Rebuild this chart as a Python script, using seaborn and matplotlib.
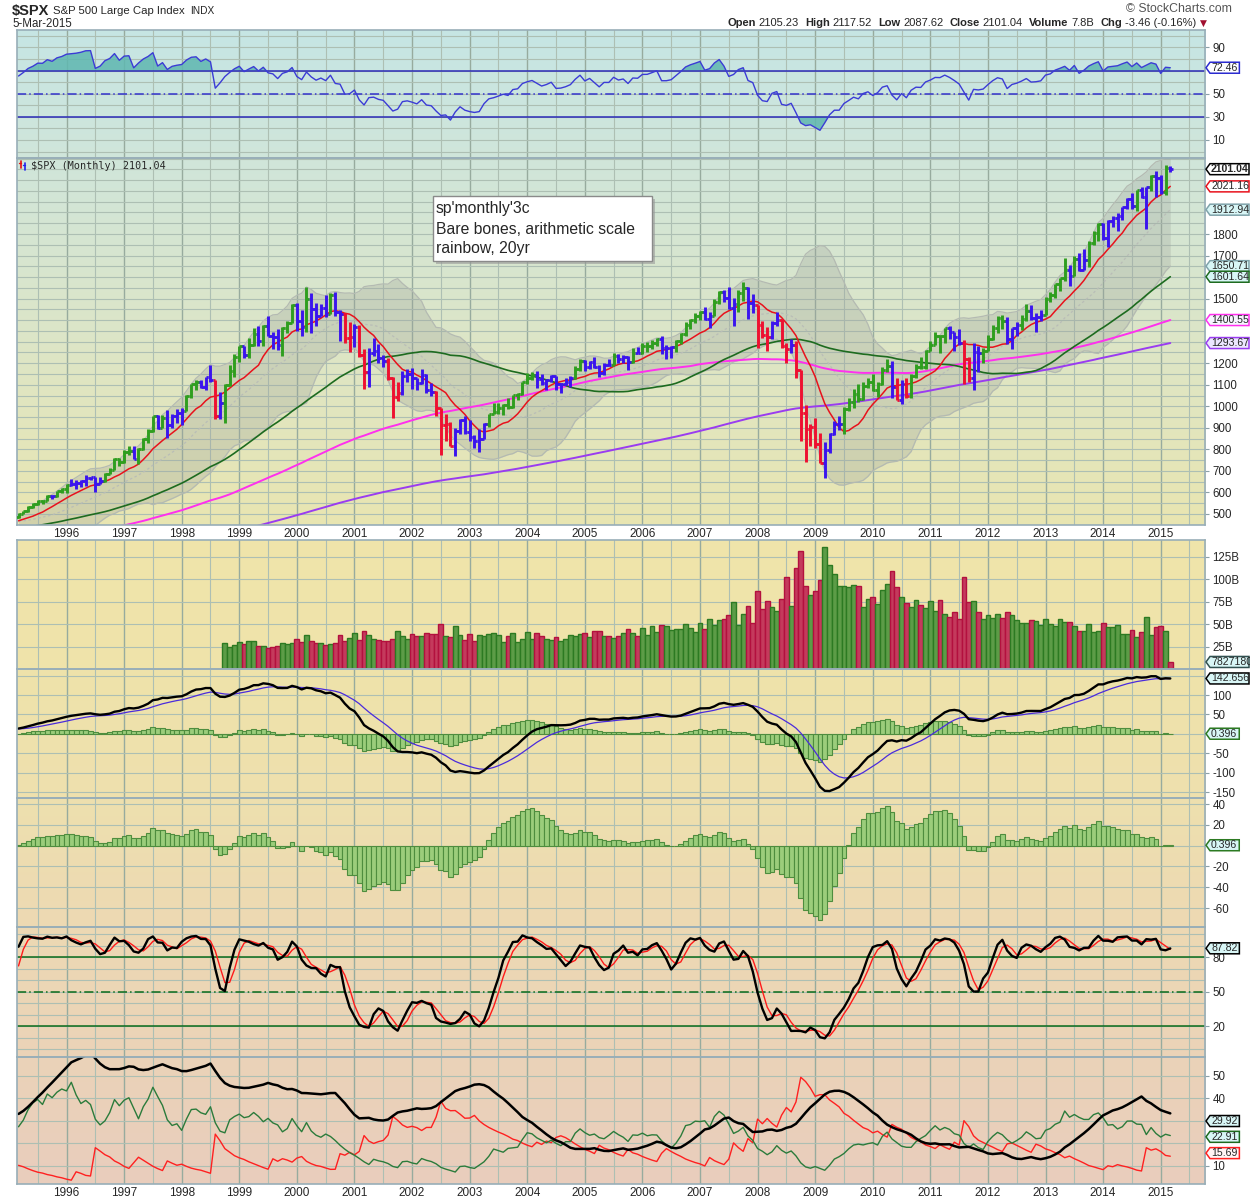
import numpy as np
import pandas as pd
import seaborn as sns
import matplotlib.pyplot as plt
import matplotlib.colors as mcolors
from matplotlib.patches import Rectangle, Polygon
from matplotlib.lines import Line2D

# ---------------- data (monthly S&P 500) ----------------
# closes before the visible window, they only feed the long averages, RSI and MACD
close_1982_1992 = [
    120.40, 113.11, 111.96, 116.44, 111.88, 109.61, 107.09, 119.51, 120.42, 133.71, 138.54, 140.64,
    145.30, 148.06, 152.96, 164.42, 162.39, 168.11, 162.56, 164.40, 166.07, 163.55, 166.40, 164.93,
    163.41, 157.06, 159.18, 160.05, 150.55, 153.18, 150.66, 166.68, 166.10, 166.09, 163.58, 167.24,
    179.63, 181.18, 180.66, 179.83, 189.55, 191.85, 190.92, 188.63, 182.08, 189.82, 202.17, 211.28,
    211.78, 226.92, 238.90, 235.52, 247.35, 250.84, 236.12, 252.93, 231.32, 243.98, 249.22, 242.17,
    274.08, 284.20, 291.70, 288.36, 290.10, 304.00, 318.66, 329.80, 321.83, 251.79, 230.30, 247.08,
    257.07, 267.82, 258.89, 261.33, 262.16, 273.50, 272.02, 261.52, 271.91, 278.97, 273.70, 277.72,
    297.47, 288.86, 294.87, 309.64, 320.52, 317.98, 346.08, 351.45, 349.15, 340.36, 345.99, 353.40,
    329.08, 331.89, 339.94, 330.80, 361.23, 358.02, 356.15, 322.56, 306.05, 304.00, 322.22, 330.22,
    343.93, 367.07, 375.22, 375.35, 389.83, 371.16, 387.81, 395.43, 387.86, 392.45, 375.22, 417.09,
    408.79, 412.70, 403.69, 414.95, 415.35, 408.14, 424.21, 414.03, 417.80, 418.68, 431.35, 435.71,
]

# Jan 1993 .. Mar 2015
close_1993_2015 = [
    438.78, 443.38, 451.67, 440.19, 450.19, 450.53, 448.13, 463.56, 458.93, 467.83, 461.79, 466.45,
    481.61, 467.14, 445.77, 450.91, 456.50, 444.27, 458.26, 475.49, 462.69, 472.35, 453.69, 459.27,
    470.42, 487.39, 500.71, 514.71, 533.40, 544.75, 562.06, 561.88, 584.41, 581.50, 605.37, 615.93,
    636.02, 640.43, 645.50, 654.17, 669.12, 670.63, 639.95, 651.99, 687.33, 705.27, 757.02, 740.74,
    786.16, 790.82, 757.12, 801.34, 848.28, 885.14, 954.29, 899.47, 947.28, 914.62, 955.40, 970.43,
    980.28, 1049.34, 1101.75, 1111.75, 1090.82, 1133.84, 1120.67, 957.28, 1017.01, 1098.67, 1163.63, 1229.23,
    1279.64, 1238.33, 1286.37, 1335.18, 1301.84, 1372.71, 1328.72, 1320.41, 1282.71, 1362.93, 1388.91, 1469.25,
    1394.46, 1366.42, 1498.58, 1452.43, 1420.60, 1454.60, 1430.83, 1517.68, 1436.51, 1429.40, 1315.23, 1320.28,
    1366.01, 1239.94, 1160.33, 1249.46, 1255.82, 1224.42, 1211.23, 1133.58, 1040.94, 1059.78, 1139.45, 1148.08,
    1130.20, 1106.73, 1147.39, 1076.92, 1067.14, 989.82, 911.62, 916.07, 815.28, 885.76, 936.31, 879.82,
    855.70, 841.15, 848.18, 916.92, 963.59, 974.50, 990.31, 1008.01, 995.97, 1050.71, 1058.20, 1111.92,
    1131.13, 1144.94, 1126.21, 1107.30, 1120.68, 1140.84, 1101.72, 1104.24, 1114.58, 1130.20, 1173.82, 1211.92,
    1181.27, 1203.60, 1180.59, 1156.85, 1191.50, 1191.33, 1234.18, 1220.33, 1228.81, 1207.01, 1249.48, 1248.29,
    1280.08, 1280.66, 1294.87, 1310.61, 1270.09, 1270.20, 1276.66, 1303.82, 1335.85, 1377.94, 1400.63, 1418.30,
    1438.24, 1406.82, 1420.86, 1482.37, 1530.62, 1503.35, 1455.27, 1473.99, 1526.75, 1549.38, 1481.14, 1468.36,
    1378.55, 1330.63, 1322.70, 1385.59, 1400.38, 1280.00, 1267.38, 1282.83, 1166.36, 968.75, 896.24, 903.25,
    825.88, 735.09, 797.87, 872.81, 919.14, 919.32, 987.48, 1020.62, 1057.08, 1036.19, 1095.63, 1115.10,
    1073.87, 1104.49, 1169.43, 1186.69, 1089.41, 1030.71, 1101.60, 1049.33, 1141.20, 1183.26, 1180.55, 1257.64,
    1286.12, 1327.22, 1325.83, 1363.61, 1345.20, 1320.64, 1292.28, 1218.89, 1131.42, 1253.30, 1246.96, 1257.60,
    1312.41, 1365.68, 1408.47, 1397.91, 1310.33, 1362.16, 1379.32, 1406.58, 1440.67, 1412.16, 1416.18, 1426.19,
    1498.11, 1514.68, 1569.19, 1597.57, 1630.74, 1606.28, 1685.73, 1632.97, 1681.55, 1756.54, 1805.81, 1848.36,
    1782.59, 1859.45, 1872.34, 1883.95, 1923.57, 1960.23, 1930.67, 2003.37, 1972.29, 2018.05, 2067.56, 2058.90,
    1994.99, 2104.50, 2101.04,
]

# monthly highs / lows, Jan 1991 .. Mar 2015
high_1991_2015 = [
    344, 370, 382, 391, 391, 391, 391, 397, 396, 393, 398, 418,
    421, 414, 413, 417, 420, 417, 425, 425, 422, 419, 432, 441,
    442, 450, 456, 452, 455, 453, 452, 464, 464, 470, 468, 471,
    483, 483, 470, 453, 458, 462, 459, 477, 476, 474, 474, 466,
    472, 489, 503, 515, 535, 552, 565, 563, 586, 589, 608, 622,
    637, 664, 656, 656, 680, 673, 672, 671, 690, 714, 759, 762,
    795, 818, 815, 805, 852, 895, 957, 961, 961, 984, 963, 986,
    992, 1051, 1105, 1123, 1122, 1138, 1190, 1122, 1066, 1104, 1193, 1244,
    1280, 1282, 1316, 1362, 1373, 1376, 1421, 1343, 1361, 1366, 1397, 1473,
    1478, 1445, 1553, 1527, 1481, 1474, 1517, 1525, 1530, 1449, 1432, 1390,
    1383, 1376, 1268, 1269, 1316, 1287, 1239, 1226, 1135, 1111, 1163, 1173,
    1176, 1131, 1173, 1148, 1107, 1070, 994, 965, 925, 901, 943, 954,
    936, 865, 895, 924, 965, 1015, 1015, 1011, 1040, 1054, 1063, 1112,
    1155, 1159, 1163, 1150, 1128, 1146, 1141, 1109, 1131, 1142, 1188, 1218,
    1217, 1212, 1229, 1192, 1200, 1219, 1246, 1245, 1237, 1233, 1270, 1276,
    1295, 1297, 1310, 1318, 1326, 1284, 1280, 1306, 1340, 1390, 1407, 1431,
    1441, 1462, 1438, 1498, 1535, 1541, 1556, 1504, 1538, 1576, 1555, 1523,
    1471, 1396, 1369, 1397, 1440, 1405, 1292, 1314, 1303, 1167, 1007, 919,
    944, 876, 832, 878, 930, 956, 997, 1039, 1080, 1102, 1113, 1130,
    1151, 1113, 1181, 1220, 1209, 1132, 1120, 1130, 1150, 1196, 1227, 1263,
    1303, 1344, 1333, 1365, 1371, 1346, 1357, 1308, 1230, 1292, 1278, 1269,
    1333, 1378, 1420, 1422, 1415, 1363, 1392, 1426, 1475, 1470, 1434, 1448,
    1509, 1530, 1570, 1598, 1687, 1654, 1698, 1710, 1730, 1767, 1813, 1849,
    1850, 1867, 1884, 1897, 1925, 1968, 1991, 2005, 2019, 2019, 2075, 2094,
    2072, 2120, 2117.52,
]

low_1991_2015 = [
    312, 341, 363, 370, 371, 368, 370, 378, 383, 380, 373, 371,
    404, 405, 401, 394, 410, 401, 404, 410, 411, 402, 417, 425,
    426, 421, 441, 433, 430, 441, 441, 446, 455, 458, 454, 460,
    464, 464, 437, 435, 442, 441, 443, 456, 460, 455, 448, 448,
    457, 469, 481, 499, 510, 527, 541, 548, 559, 571, 578, 599,
    597, 630, 616, 624, 630, 656, 601, 637, 649, 686, 702, 723,
    737, 773, 755, 733, 798, 831, 883, 893, 897, 855, 901, 924,
    912, 979, 1040, 1076, 1086, 1074, 1114, 940, 939, 923, 1093, 1134,
    1205, 1222, 1225, 1282, 1282, 1281, 1328, 1268, 1263, 1233, 1342, 1387,
    1350, 1325, 1346, 1339, 1373, 1420, 1416, 1429, 1419, 1305, 1294, 1254,
    1274, 1228, 1082, 1091, 1233, 1203, 1183, 1124, 944, 1026, 1054, 1114,
    1081, 1074, 1105, 1064, 1048, 953, 776, 838, 815, 768, 873, 872,
    841, 806, 789, 847, 902, 963, 962, 960, 988, 991, 1031, 1053,
    1105, 1122, 1087, 1101, 1076, 1113, 1078, 1060, 1099, 1090, 1127, 1163,
    1163, 1172, 1176, 1137, 1146, 1188, 1190, 1201, 1201, 1169, 1201, 1246,
    1245, 1253, 1268, 1282, 1245, 1219, 1224, 1253, 1290, 1327, 1360, 1385,
    1403, 1400, 1364, 1417, 1476, 1485, 1454, 1371, 1439, 1490, 1407, 1435,
    1270, 1317, 1257, 1314, 1373, 1272, 1200, 1248, 1133, 840, 741, 818,
    805, 735, 667, 783, 866, 888, 870, 979, 992, 1020, 1029, 1086,
    1072, 1045, 1101, 1157, 1040, 1028, 1011, 1040, 1039, 1131, 1173, 1174,
    1257, 1285, 1249, 1295, 1311, 1258, 1283, 1102, 1114, 1075, 1158, 1202,
    1256, 1310, 1340, 1357, 1291, 1267, 1325, 1354, 1396, 1403, 1343, 1398,
    1426, 1485, 1501, 1536, 1581, 1560, 1604, 1627, 1632, 1646, 1747, 1767,
    1770, 1738, 1834, 1815, 1863, 1915, 1916, 1905, 1965, 1821, 2001, 1973,
    1988, 1981, 2087.62,
]
last_open = 2105.23

# monthly volume in billions, Oct 1998 .. Mar 2015
volume_b = [
    28.7, 24.3, 26.5,
    29.8, 27.6, 30.9, 30.9, 25.4, 25.4, 23.1, 24.3, 25.4, 28.7, 28.0, 28.7,
    33.1, 29.8, 37.6, 30.9, 28.7, 28.7, 26.5, 27.6, 28.7, 37.6, 30.9, 34.3,
    39.8, 32.0, 42.0, 37.6, 33.1, 32.0, 30.9, 30.9, 33.1, 41.8, 36.9, 33.6,
    39.2, 36.9, 36.9, 40.3, 39.2, 39.2, 50.4, 36.9, 35.8, 48.1, 38.1, 32.5,
    39.2, 31.3, 38.1, 36.9, 39.2, 40.3, 38.1, 30.2, 36.9, 40.3, 30.2, 33.6,
    41.4, 33.6, 40.3, 36.9, 33.6, 32.5, 35.8, 31.3, 33.6, 38.1, 36.9, 39.2,
    40.3, 35.8, 42.5, 42.5, 36.9, 36.9, 34.7, 36.9, 40.3, 44.8, 40.3, 36.9,
    45.9, 38.1, 48.1, 41.4, 49.3, 48.1, 43.7, 44.8, 44.8, 50.4, 45.9, 41.4,
    51.5, 44.8, 56.0, 49.3, 54.9, 56.0, 60.4, 75.0, 48.5, 61.6, 70.5, 51.5,
    87.3, 67.2, 76.1, 69.4, 64.9, 78.4, 101.9, 70.5, 111.9, 131.0, 92.9, 82.8,
    87.3, 99.6, 135.4, 115.3, 105.2, 92.9, 92.9, 91.8, 94.0, 92.9, 69.4, 78.4,
    80.6, 72.8, 88.4, 95.1, 108.6, 91.8, 80.6, 73.9, 69.4, 77.2, 71.6, 68.3,
    76.1, 64.9, 77.2, 61.6, 58.2, 63.8, 56.0, 101.9, 75.0, 76.1, 63.8, 56.0,
    60.4, 57.1, 61.6, 56.3, 62.9, 59.6, 54.0, 50.7, 50.7, 54.0, 53.0, 48.5,
    55.2, 49.6, 47.4, 55.2, 51.9, 51.9, 47.4, 41.9, 41.9, 49.6, 40.7, 41.9,
    50.7, 46.3, 46.3, 48.5, 38.5, 38.5, 43.0, 35.2, 40.7, 57.4, 37.4, 46.3,
    47.4, 41.9, 7.83,
]

years = list(range(1996, 2016))
note_lines = ["sp'monthly'3c", "Bare bones, arithmetic scale", "rainbow, 20yr"]
header_items = [("Open", "2105.23"), ("High", "2117.52"), ("Low", "2087.62"),
                ("Close", "2101.04"), ("Volume", "7.8B"), ("Chg", "-3.46 (-0.16%)")]

# ---------------- indicators ----------------
closes = close_1982_1992 + close_1993_2015
T0_HL = 9 * 12                           # Jan 1991
T_FIRST = 13 * 12 + 2                    # Mar 1995, first bar shown
T_VOL = 16 * 12 + 9                      # Oct 1998, first volume bar

c = pd.Series(closes, index=np.arange(len(closes)), dtype=float)
h = pd.Series(high_1991_2015, index=np.arange(T0_HL, len(closes)), dtype=float)
l = pd.Series(low_1991_2015, index=np.arange(T0_HL, len(closes)), dtype=float)
o = c.shift(1)
o.iloc[-1] = last_open


def wilder(x, n=14):
    v = x.values.astype(float)
    out = np.full(len(v), np.nan)
    s = np.where(~np.isnan(v))[0][0]
    out[s + n - 1] = np.nanmean(v[s:s + n])
    for i in range(s + n, len(v)):
        out[i] = out[i - 1] + (v[i] - out[i - 1]) / n
    return pd.Series(out, index=x.index)


sma = {n: c.rolling(n).mean() for n in (10, 20, 50, 100, 200)}
bb_sd = c.rolling(20).std(ddof=0)
bb_up, bb_lo = sma[20] + 2 * bb_sd, sma[20] - 2 * bb_sd

macd = c.ewm(span=12, adjust=False).mean() - c.ewm(span=26, adjust=False).mean()
signal = macd.ewm(span=9, adjust=False).mean()
hist = macd - signal

delta = c.diff()
rsi = 100 - 100 / (1 + wilder(delta.clip(lower=0)) / wilder(-delta.clip(upper=0)))

cc = c.loc[T0_HL:]
lo14, hi14 = l.rolling(14).min(), h.rolling(14).max()
slow_k = (100 * (cc - lo14) / (hi14 - lo14)).rolling(3).mean()
slow_d = slow_k.rolling(3).mean()

prev_c = c.shift(1).loc[T0_HL:]
tr = pd.concat([h - l, (h - prev_c).abs(), (l - prev_c).abs()], axis=1).max(axis=1)
up_move, dn_move = h.diff(), -l.diff()
pdm = up_move.where((up_move > dn_move) & (up_move > 0), 0.0)
mdm = dn_move.where((dn_move > up_move) & (dn_move > 0), 0.0)
tr.iloc[0] = pdm.iloc[0] = mdm.iloc[0] = np.nan
atr = wilder(tr)
pdi = 100 * wilder(pdm) / atr
mdi = 100 * wilder(mdm) / atr
adx = wilder(100 * (pdi - mdi).abs() / (pdi + mdi))

# elder impulse bar colours
ema13 = c.ewm(span=13, adjust=False).mean()
imp_up = (ema13.diff() > 0) & (hist.diff() > 0)
imp_dn = (ema13.diff() < 0) & (hist.diff() < 0)

vis = np.arange(T_FIRST, len(closes))
bar_cols = ['#2f9e1f' if imp_up[t] else ('#ee1030' if imp_dn[t] else '#3a14ee') for t in vis]

# ---------------- figure ----------------
sns.set_style('white')
plt.rcParams['font.family'] = ['Liberation Sans', 'DejaVu Sans']

W, H = 1250, 1200
fig = plt.figure(figsize=(W / 100, H / 100), dpi=100)
fig.patch.set_facecolor('white')
renderer = fig.canvas.get_renderer()
X0, X1 = 16.5, 1205
XL = (157.58, 405.23)


def px_rect(top, bottom):
    return [X0 / W, 1 - bottom / H, (X1 - X0) / W, (bottom - top) / H]


bg_anchors = [(30, '#c6e5e4'), (160, '#d0e5da'), (330, '#dce5c8'), (525, '#e9e5b1'),
              (540, '#efe5aa'), (669, '#efe3aa'), (798, '#eee0ae'), (927, '#edd9b3'),
              (1057, '#ebd3b8'), (1184, '#e9cdbd')]
anc_y = np.array([a[0] for a in bg_anchors], dtype=float)
anc_c = np.array([mcolors.to_rgb(a[1]) for a in bg_anchors])


def add_bg(top, bottom):
    ys = np.arange(top, bottom) + 0.5
    cols = np.stack([np.interp(ys, anc_y, anc_c[:, k]) for k in range(3)], axis=1)
    bg = fig.add_axes(px_rect(top, bottom), zorder=0)
    bg.imshow(cols[:, None, :], aspect='auto', extent=[0, 1, 0, 1], origin='upper')
    bg.axis('off')


add_bg(30, 525)
add_bg(540, 1184)

grid_col, year_col = '#adbfb3', '#97ab9e'


def add_panel(top, bottom, ylim, ystep, ticks, ticklabels=None):
    ax = fig.add_axes(px_rect(top, bottom), zorder=1)
    ax.set_facecolor('none')
    ax.set_xlim(XL)
    ax.set_ylim(ylim)
    for t in range(162, 406, 6):
        ax.axvline(t, color=year_col if t % 12 == 0 else grid_col, lw=1.0 if t % 12 == 0 else 0.8, zorder=0.5)
    for y in np.arange(np.ceil(ylim[0] / ystep) * ystep, ylim[1], ystep):
        ax.axhline(y, color=grid_col, lw=0.8, zorder=0.5)
    ax.yaxis.tick_right()
    ax.set_yticks(ticks)
    ax.set_yticklabels(ticklabels if ticklabels else [str(v) for v in ticks])
    ax.tick_params(axis='y', right=True, left=False, labelsize=8.3, length=3, color='#8aa0a8', pad=2.5)
    ax.set_xticks([])
    for s in ax.spines.values():
        s.set_color('#98aeb8')
        s.set_linewidth(1.2)
    return ax


def year_axis(ax):
    ax.set_xticks([(y - 1982) * 12 for y in years])
    ax.set_xticklabels([str(y) for y in years])
    ax.set_xticks(np.arange(158, 406), minor=True)
    ax.tick_params(axis='x', which='major', length=0, labelsize=8.5, pad=2.5)
    ax.tick_params(axis='x', which='minor', length=1.5, width=0.8, color='#a4b2b8')


def tag(ax, y, text, ec, fc='#d8f6f6', bold=False):
    # value tag on the right edge: a small box with a left pointing tip
    yp = ax.transData.transform((XL[0], y))[1]
    t = fig.text((X1 + 6) / W, yp / H, text, fontsize=7.6, fontweight='bold' if bold else 'normal',
                 ha='left', va='center', zorder=6)
    wd = t.get_window_extent(renderer=renderer).width
    xr = min(X1 + 6 + wd + 2, W - 1)
    pts = [(X1 + 1, yp), (X1 + 5, yp + 5.5), (xr, yp + 5.5), (xr, yp - 5.5), (X1 + 5, yp - 5.5)]
    fig.add_artist(Polygon([(px / W, py / H) for px, py in pts], closed=True, transform=fig.transFigure,
                           fc=fc, ec=ec, lw=1.1, zorder=5))


def line(ax, t, y, color, lw, **kw):
    ok = np.isfinite(y)
    sns.lineplot(x=t[ok], y=y[ok], ax=ax, color=color, linewidth=lw, errorbar=None,
                 legend=False, sort=False, **kw)
    ax.set_xlabel('')
    ax.set_ylabel('')


# --- RSI panel ---
ax_rsi = add_panel(30, 158, (-5.6, 105.1), 10, [10, 30, 50, 90])
r = rsi.loc[T_FIRST:].values
ax_rsi.fill_between(vis, r, 70, where=r > 70, interpolate=True, color='#5fb7b0', alpha=0.85, lw=0)
ax_rsi.fill_between(vis, r, 30, where=r < 30, interpolate=True, color='#5fb7b0', alpha=0.85, lw=0)
ax_rsi.axhline(70, color='#2b2bb8', lw=1.1)
ax_rsi.axhline(30, color='#2b2bb8', lw=1.1)
ax_rsi.axhline(50, color='#3333cc', lw=1.1, ls=(0, (6, 2, 1, 2)))
line(ax_rsi, vis, r, '#3b3bd6', 1.0)
tag(ax_rsi, 72.46, '72.46', '#2b2bd0', fc='white')

# --- price panel (ticks under the value tags are left out, as on the original) ---
ax_p = add_panel(158, 525, (448.9, 2152.9), 50, [500, 600, 700, 800, 900, 1000, 1100, 1200, 1500, 1700, 1800])
ax_p.fill_between(vis, bb_lo.loc[T_FIRST:].values, bb_up.loc[T_FIRST:].values,
                  color='#9ea49c', alpha=0.3, lw=0, zorder=1)
line(ax_p, vis, bb_up.loc[T_FIRST:].values, '#b4bab2', 0.9)
line(ax_p, vis, bb_lo.loc[T_FIRST:].values, '#b4bab2', 0.9)
line(ax_p, vis, sma[20].loc[T_FIRST:].values, '#b9bdb7', 0.9, linestyle=(0, (2, 2)))
line(ax_p, vis, sma[200].loc[T_FIRST:].values, '#9a3cf0', 1.4)
line(ax_p, vis, sma[100].loc[T_FIRST:].values, '#ff30ee', 1.4)
line(ax_p, vis, sma[50].loc[T_FIRST:].values, '#1d6b1f', 1.2)
line(ax_p, vis, sma[10].loc[T_FIRST:].values, '#e8121c', 1.1)
ax_p.vlines(vis, l.loc[T_FIRST:].values, h.loc[T_FIRST:].values, colors=bar_cols, lw=2.1, zorder=5)
ax_p.hlines(o.loc[T_FIRST:].values, vis - 0.55, vis, colors=bar_cols, lw=2.0, zorder=5)
ax_p.hlines(c.loc[T_FIRST:].values, vis, vis + 0.55, colors=bar_cols, lw=2.0, zorder=5)
year_axis(ax_p)

tag(ax_p, 2101.04, '2101.04', 'black', fc='white', bold=True)
tag(ax_p, 2021.16, '2021.16', '#e8121c', fc='white')
tag(ax_p, 1912.94, '1912.94', '#7fa3aa')
tag(ax_p, 1650.71, '1650.71', '#7fa3aa')
tag(ax_p, 1601.64, '1601.64', '#1d6b1f')
tag(ax_p, 1400.55, '1400.55', '#ff30ee', fc='#f6f6ff')
tag(ax_p, 1293.67, '1293.67', '#9a3cf0', fc='#ece6ff')

# tiny bar icon in front of the legend text
for xpx, col, y0, y1 in [(20.5, '#e81010', 161, 168), (24.5, '#2222ee', 163, 170)]:
    fig.add_artist(Line2D([xpx / W, xpx / W], [1 - y1 / H, 1 - y0 / H], color=col, lw=1.2,
                          transform=fig.transFigure, zorder=6))
    fig.add_artist(Line2D([(xpx - 1.5) / W, xpx / W], [1 - (y0 + 2) / H] * 2, color=col, lw=1.0,
                          transform=fig.transFigure, zorder=6))
ax_p.text(0.0125, 0.977, '$SPX (Monthly) 2101.04', transform=ax_p.transAxes, fontsize=7.3,
          family='DejaVu Sans Mono', va='center', ha='left')

# note box with shadow
nx0, ny0, nx1, ny1 = 433, 196, 652, 261
fig.add_artist(Rectangle(((nx0 + 3) / W, 1 - (ny1 + 3) / H), (nx1 - nx0) / W, (ny1 - ny0) / H,
                         transform=fig.transFigure, fc='#9a9a9a', ec='none', alpha=0.6, zorder=8))
fig.add_artist(Rectangle((nx0 / W, 1 - ny1 / H), (nx1 - nx0) / W, (ny1 - ny0) / H,
                         transform=fig.transFigure, fc='white', ec='#8a8a8a', lw=1, zorder=9))
for k, s in enumerate(note_lines):
    fig.text(436 / W, 1 - (209 + 20 * k) / H, s, fontsize=11.3, va='center', ha='left', zorder=10)

# --- volume panel ---
ax_v = add_panel(540, 669, (0, 143.6), 25, [25, 50, 75, 100, 125], ['25B', '50B', '75B', '100B', '125B'])
tv = np.arange(T_VOL, T_VOL + len(volume_b))
v_up = [c[t] >= c[t - 1] for t in tv]
ax_v.bar(tv, volume_b, width=1.0, color=['#5c9c47' if u else '#c43a5c' for u in v_up],
         edgecolor=['#2c7a22' if u else '#b3103e' for u in v_up], lw=1.0, zorder=2)
tag(ax_v, 7.83, '7827180', '#305050')

# --- MACD panel ---
ax_m = add_panel(669, 798, (-165, 167), 50, [-150, -100, -50, 50, 100])
ax_m.bar(vis, hist.loc[T_FIRST:].values, width=1.0, color='#9bcd7b', edgecolor='#4e8d3e', lw=0.8, zorder=2)
line(ax_m, vis, signal.loc[T_FIRST:].values, '#4a2bdc', 0.9)
line(ax_m, vis, macd.loc[T_FIRST:].values, 'black', 1.7)
tag(ax_m, 142.656, '142.656', 'black')
tag(ax_m, 0.396, '0.396', '#2c7a22')

# --- histogram panel ---
ax_h = add_panel(798, 927, (-78.2, 45.8), 20, [-60, -40, -20, 20, 40])
ax_h.bar(vis, hist.loc[T_FIRST:].values, width=1.0, color='#9bcd7b', edgecolor='#4e8d3e', lw=0.8, zorder=2)
tag(ax_h, 0.396, '0.396', '#2c7a22')

# --- stochastics panel ---
ax_s = add_panel(927, 1057, (-7, 106.4), 10, [20, 50, 80])
ax_s.axhline(80, color='#0b6b1b', lw=1.1)
ax_s.axhline(20, color='#0b6b1b', lw=1.1)
ax_s.axhline(50, color='#0b6b1b', lw=1.1, ls=(0, (6, 2, 1, 2)))
line(ax_s, vis, slow_d.loc[T_FIRST:].values, '#ff1a1a', 1.0)
line(ax_s, vis, slow_k.loc[T_FIRST:].values, 'black', 1.7)
tag(ax_s, 87.82, '87.82', 'black')

# --- ADX panel ---
ax_a = add_panel(1057, 1184, (2, 58.3), 10, [10, 40, 50])
line(ax_a, vis, mdi.loc[T_FIRST:].values, '#ff2020', 1.0)
line(ax_a, vis, pdi.loc[T_FIRST:].values, '#2b7b3b', 1.0)
line(ax_a, vis, adx.loc[T_FIRST:].values, 'black', 1.8)
year_axis(ax_a)
tag(ax_a, 29.92, '29.92', 'black')
tag(ax_a, 22.91, '22.91', '#1d6b1f')
tag(ax_a, 15.69, '15.69', '#ff2020', fc='#fff4f4')

# ---------------- header ----------------
t1 = fig.text(12 / W, 1 - 11 / H, '$SPX', fontsize=10.5, fontweight='bold', va='center', ha='left')
x = 12 + t1.get_window_extent(renderer=renderer).width + 4
t2 = fig.text(x / W, 1 - 11 / H, 'S&P 500 Large Cap Index', fontsize=8.2, va='center', ha='left')
x += t2.get_window_extent(renderer=renderer).width + 5
fig.text(x / W, 1 - 11 / H, 'INDX', fontsize=7.3, va='center', ha='left')
fig.text(12 / W, 1 - 24 / H, '5-Mar-2015', fontsize=8.3, va='center', ha='left')
fig.text(1232 / W, 1 - 9 / H, '© StockCharts.com', fontsize=8.8, color='#555555', va='center', ha='right')

pieces = []
for name, val in header_items:
    pieces.append((name, True, 3))
    pieces.append((val, False, 6))
tmp = []
for s, bold, gap in pieces:
    t = fig.text(0, 1 - 23 / H, s, fontsize=8.0, fontweight='bold' if bold else 'normal', va='center', ha='left')
    tmp.append((t, t.get_window_extent(renderer=renderer).width, gap))
arrow = fig.text(0, 1 - 23 / H, '▼', fontsize=6.5, color='#a01030', family='DejaVu Sans', va='center', ha='left')
total = sum(wd + g for _, wd, g in tmp) - tmp[-1][2] + 4 + arrow.get_window_extent(renderer=renderer).width
x = 1207 - total
for t, wd, g in tmp:
    t.set_x(x / W)
    x += wd + g
arrow.set_x((x - tmp[-1][2] + 4) / W)

fig.savefig('out.png', dpi=100, facecolor='white')
